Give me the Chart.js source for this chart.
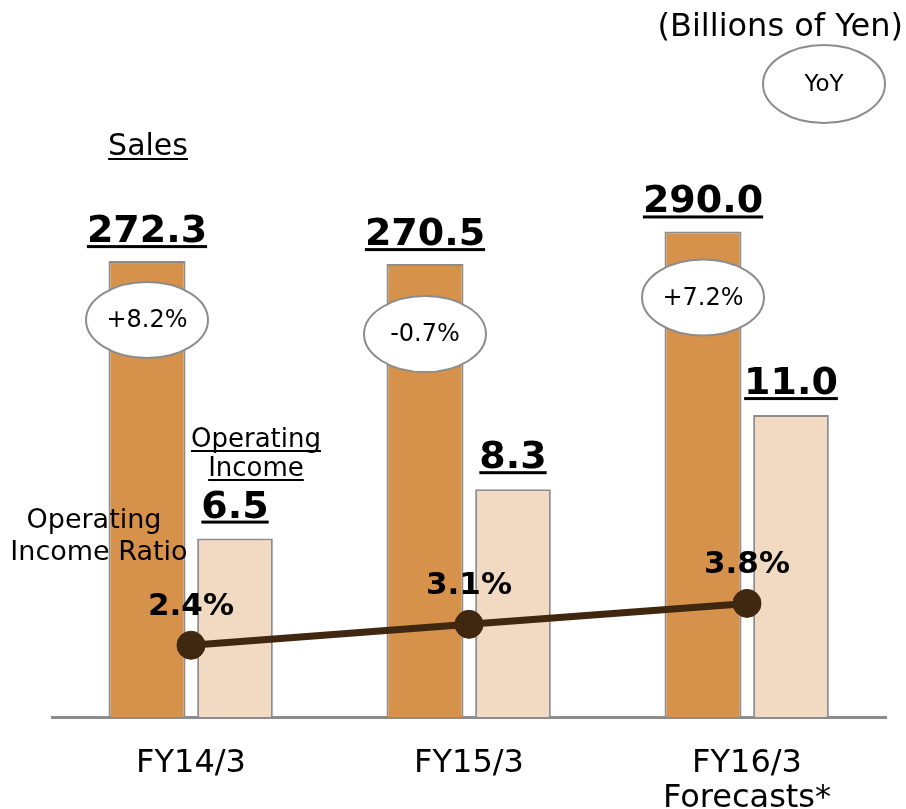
<!DOCTYPE html>
<html>
<head>
<meta charset="utf-8">
<script src="https://cdn.jsdelivr.net/npm/chart.js@4.4.0/dist/chart.umd.min.js"></script>
<style>
  html, body { margin: 0; padding: 0; background: #fff; }
  canvas { display: block; }
</style>
</head>
<body>
<canvas id="chart" width="906" height="809"></canvas>
<script>
// values
const categories      = [['FY14/3'], ['FY15/3'], ['FY16/3', 'Forecasts*']];
const sales           = [272.3, 270.5, 290.0];
const operatingIncome = [6.5, 8.3, 11.0];
const incomeRatio     = [2.4, 3.1, 3.8];
const salesYoY        = ['+8.2%', '-0.7%', '+7.2%'];

// layout bits (not data)
const FONT = '"DejaVu Sans", Verdana, sans-serif';
const YOY_DROP = [59, 70, 66];   // bubble centre below the sales bar top

const COLORS = {
  sales:  '#D6914B',
  income: '#F2D9C1',
  line:   '#40270F',
  border: '#8C8C8C',
  text:   '#000000',
};

/** centred text with an underline under it */
function underlined(ctx, text, x, y, font, gap, thick) {
  ctx.font = font;
  ctx.textAlign = 'center';
  ctx.textBaseline = 'alphabetic';
  ctx.fillText(text, x, y);
  const w = ctx.measureText(text).width;
  ctx.fillRect(x - w / 2, y + gap, w, thick);
}

function bubble(ctx, text, x, y, rx, ry, size) {
  ctx.beginPath();
  ctx.ellipse(x, y, rx, ry, 0, 0, Math.PI * 2);
  ctx.fillStyle = '#fff';
  ctx.fill();
  ctx.lineWidth = 2;
  ctx.strokeStyle = COLORS.border;
  ctx.stroke();
  ctx.fillStyle = COLORS.text;
  ctx.font = size + 'px ' + FONT;
  ctx.textAlign = 'center';
  ctx.textBaseline = 'middle';
  ctx.fillText(text, x, y + 1);
}

const annotations = {
  id: 'annotations',
  afterDatasetsDraw(chart) {
    const ctx = chart.ctx;
    const salesMeta  = chart.getDatasetMeta(0);
    const incomeMeta = chart.getDatasetMeta(1);
    const ratioMeta  = chart.getDatasetMeta(2);
    ctx.save();

    salesMeta.data.forEach((bar, i) => {
      ctx.fillStyle = COLORS.text;
      underlined(ctx, sales[i].toFixed(1), bar.x, bar.y - 19, 'bold 38px ' + FONT, 3, 3);
      bubble(ctx, salesYoY[i], bar.x, bar.y + YOY_DROP[i], 61, 38, 24);
    });

    incomeMeta.data.forEach((bar, i) => {
      ctx.fillStyle = COLORS.text;
      underlined(ctx, operatingIncome[i].toFixed(1), bar.x, bar.y - 21, 'bold 38px ' + FONT, 3, 3);
    });

    ratioMeta.data.forEach((pt, i) => {
      ctx.fillStyle = COLORS.text;
      ctx.font = 'bold 31px ' + FONT;
      ctx.textAlign = 'center';
      ctx.textBaseline = 'alphabetic';
      ctx.fillText(incomeRatio[i].toFixed(1) + '%', pt.x, pt.y - 30);
    });

    // series captions
    ctx.fillStyle = COLORS.text;
    const s0 = salesMeta.data[0], o0 = incomeMeta.data[0];
    underlined(ctx, 'Sales', s0.x + 1, 155, '30px ' + FONT, 3, 2);
    underlined(ctx, 'Operating', o0.x + 21, 447, '26px ' + FONT, 3, 2);
    underlined(ctx, 'Income', o0.x + 21, 476, '26px ' + FONT, 3, 2);
    ctx.font = '27px ' + FONT;
    ctx.textAlign = 'center';
    ctx.fillText('Operating', 94, 528);
    ctx.fillText('Income Ratio', 99, 560);

    // unit + legend bubble
    ctx.font = '32px ' + FONT;
    ctx.textAlign = 'right';
    ctx.fillText('(Billions of Yen)', 903, 36);
    bubble(ctx, 'YoY', 824, 84, 61, 39, 23);
    ctx.restore();
  },
};

new Chart(document.getElementById('chart'), {
  type: 'bar',
  data: {
    labels: categories,
    datasets: [
      {
        label: 'Sales',
        data: sales,
        backgroundColor: COLORS.sales,
        borderColor: COLORS.border,
        borderWidth: 2,
        yAxisID: 'ySales',
        order: 1,
        categoryPercentage: 0.633,
        barPercentage: 0.875,
      },
      {
        label: 'Operating Income',
        data: operatingIncome,
        backgroundColor: COLORS.income,
        borderColor: COLORS.border,
        borderWidth: 2,
        yAxisID: 'yIncome',
        order: 1,
        categoryPercentage: 0.633,
        barPercentage: 0.86,
      },
      {
        label: 'Operating Income Ratio',
        type: 'line',
        data: incomeRatio,
        borderColor: COLORS.line,
        backgroundColor: COLORS.line,
        borderWidth: 7,
        pointRadius: 14,
        pointBorderWidth: 1,
        pointBackgroundColor: COLORS.line,
        yAxisID: 'yRatio',
        order: 0,
      },
    ],
  },
  options: {
    responsive: false,
    animation: false,
    layout: { padding: { left: 52, right: 20, top: 131, bottom: 0 } },
    plugins: { legend: { display: false }, tooltip: { enabled: false } },
    scales: {
      x: {
        grid: { display: false, drawTicks: false },
        border: { display: true, color: COLORS.border, width: 3 },
        ticks: {
          color: COLORS.text,
          padding: 29,
          font: { family: FONT, size: 32, lineHeight: 1.1 },
        },
        afterFit: scale => { scale.height = 92; },
      },
      ySales:  { display: false, min: 0, max: 350 },
      yIncome: { display: false, min: 0, max: 21.35 },
      yRatio:  { display: false, min: 0, max: 19.6 },
    },
  },
  plugins: [annotations],
});
</script>
</body>
</html>
